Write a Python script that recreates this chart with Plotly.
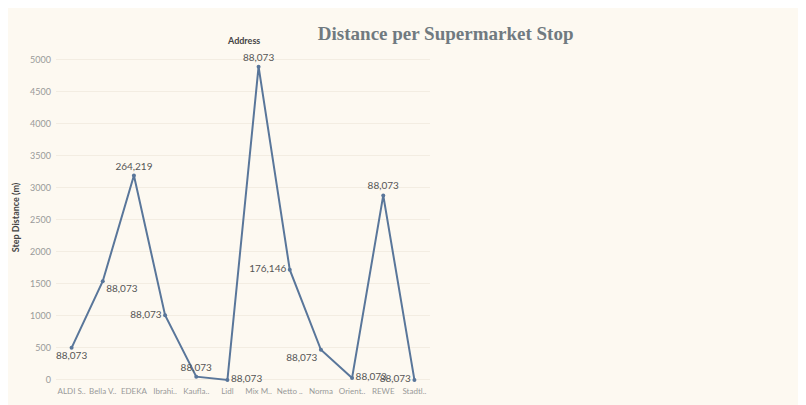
import plotly.graph_objects as go

stores = ["ALDI S..", "Bella V..", "EDEKA", "Ibrahi..", "Kaufla..", "Lidl",
          "Mix M..", "Netto ..", "Norma", "Orient..", "REWE", "Stadtl.."]
distance = [500, 1540, 3190, 1010, 50, 0, 4890, 1720, 470, 30, 2880, 0]
labels = ["88,073", "88,073", "264,219", "88,073", "88,073", "88,073",
          "88,073", "176,146", "88,073", "88,073", "88,073", "88,073"]
positions = ["bottom center", "bottom right", "top center", "middle left",
             "top center", "middle right", "top center", "middle left",
             "bottom left", "middle right", "top center", "middle left"]

bg = "#fdf9f1"
fig = go.Figure(go.Scatter(
    x=list(range(len(stores))), y=distance, mode="lines+markers+text",
    line=dict(color="#59769a", width=2), marker=dict(size=4, color="#59769a"),
    text=labels, textposition=positions,
    textfont=dict(family="Lato", size=10, color="#555555"),
    cliponaxis=False,
))
fig.update_layout(
    width=806, height=405, paper_bgcolor=bg, plot_bgcolor=bg,
    margin=dict(l=48, r=384, t=42, b=28), showlegend=False,
    title=dict(text="<b>Distance per Supermarket Stop</b>", x=0.543, y=0.955,
               xanchor="center", font=dict(family="Liberation Serif", size=19, color="#707a80")),
    annotations=[dict(text="<b>Address</b>", x=0.5, y=1.0, xref="paper", yref="paper",
                      yanchor="bottom", showarrow=False, yshift=2,
                      font=dict(family="Lato", size=9, color="#444444"))],
)
fig.update_xaxes(tickvals=list(range(len(stores))), ticktext=stores, range=[-0.5, 11.5],
                 showgrid=False, zeroline=False, tickangle=0, automargin=False,
                 tickfont=dict(family="Lato", size=8, color="#999999"))
fig.update_yaxes(range=[-80, 5150], tickvals=[0, 500, 1000, 1500, 2000, 2500, 3000, 3500, 4000, 4500, 5000],
                 gridcolor="#f3ede2", zeroline=False, ticklabelstandoff=4, automargin=False,
                 title=dict(text="<b>Step Distance (m)</b>", standoff=8,
                            font=dict(family="Lato", size=9, color="#444444")),
                 tickfont=dict(family="Lato", size=9, color="#999999"))
fig.write_html("out.html")
